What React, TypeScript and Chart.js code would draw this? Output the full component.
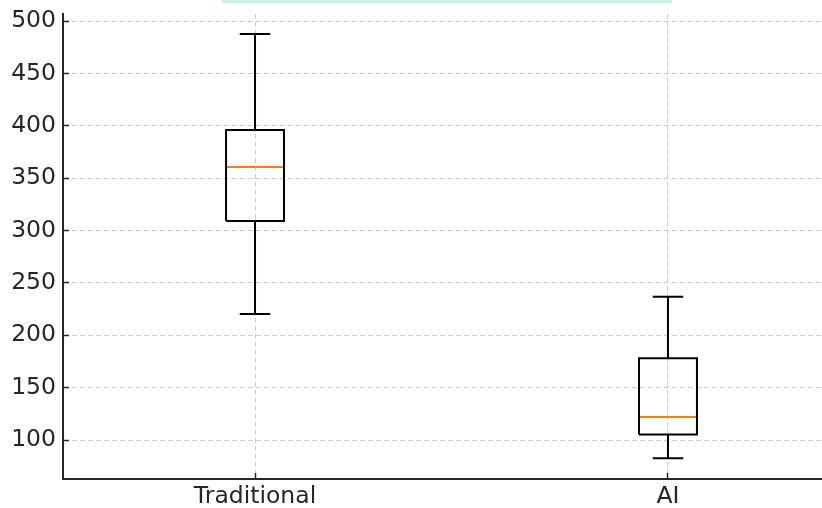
import React, { useEffect, useRef } from "react";
import { Chart, registerables } from "chart.js";

Chart.register(...registerables);

const categories = ["Traditional", "AI"];
const positions = [1, 2];
const whiskerLow = [220.3, 82.5];
const q1 = [309.1, 105.4];
const median = [360.6, 122.0];
const q3 = [395.9, 178.0];
const whiskerHigh = [487.6, 236.8];
const yTicks = [100, 150, 200, 250, 300, 350, 400, 450, 500];

const BOX_HALF = 0.0702;
const CAP_HALF = 0.037;
const FONT = "'DejaVu Sans', sans-serif";
const TEXT_COLOR = "#262626";

function buildDatasets() {
  const ds: any[] = [];
  positions.forEach((p, i) => {
    const base = {
      showLine: true,
      pointRadius: 0,
      pointHoverRadius: 0,
      borderWidth: 2,
      borderColor: "#000000",
      backgroundColor: "transparent",
      fill: false,
      spanGaps: false,
      tension: 0,
      borderJoinStyle: "miter",
      borderCapStyle: "butt",
    };
    ds.push({
      ...base,
      label: categories[i] + " whiskers",
      data: [
        { x: p, y: whiskerLow[i] },
        { x: p, y: q1[i] },
        { x: p, y: null },
        { x: p, y: q3[i] },
        { x: p, y: whiskerHigh[i] },
        { x: p, y: null },
        { x: p - CAP_HALF, y: whiskerLow[i] },
        { x: p + CAP_HALF, y: whiskerLow[i] },
        { x: p, y: null },
        { x: p - CAP_HALF, y: whiskerHigh[i] },
        { x: p + CAP_HALF, y: whiskerHigh[i] },
      ],
    });
    ds.push({
      ...base,
      label: categories[i] + " box",
      data: [
        { x: p - BOX_HALF, y: q1[i] },
        { x: p + BOX_HALF, y: q1[i] },
        { x: p + BOX_HALF, y: q3[i] },
        { x: p - BOX_HALF, y: q3[i] },
        { x: p - BOX_HALF, y: q1[i] },
      ],
    });
    ds.push({
      ...base,
      label: categories[i] + " median",
      borderColor: "#ff7f0e",
      data: [
        { x: p - BOX_HALF, y: median[i] },
        { x: p + BOX_HALF, y: median[i] },
      ],
    });
  });
  return ds;
}

export default function App() {
  const ref = useRef<HTMLCanvasElement | null>(null);

  useEffect(() => {
    if (!ref.current) return;
    const chart = new Chart(ref.current, {
      type: "scatter",
      data: { datasets: buildDatasets() },
      options: {
        animation: false,
        responsive: true,
        maintainAspectRatio: false,
        layout: { padding: { top: 14, left: 0, right: 0, bottom: 0 } },
        plugins: {
          legend: { display: false },
          tooltip: { enabled: false },
          title: { display: false },
        },
        scales: {
          x: {
            type: "linear",
            min: 0.535,
            max: 2.373,
            afterBuildTicks: (scale: any) => {
              scale.ticks = positions.map((v) => ({ value: v }));
            },
            afterFit: (scale: any) => {
              scale.height = 29;
              scale.paddingLeft = 0;
              scale.paddingRight = 0;
            },
            grid: {
              display: true,
              color: "#cccccc",
              lineWidth: 1,
              drawTicks: true,
              tickLength: -6,
              tickColor: "#262626",
              tickWidth: 1.5,
            },
            border: { display: true, color: "#262626", width: 2, dash: [5, 3] },
            ticks: {
              padding: 10,
              color: TEXT_COLOR,
              font: { family: FONT, size: 23.5 },
              maxRotation: 0,
              autoSkip: false,
              callback: (v: any) => {
                const idx = positions.indexOf(Number(v));
                return idx >= 0 ? categories[idx] : "";
              },
            },
          },
          y: {
            type: "linear",
            min: 62.8,
            max: 506.7,
            afterBuildTicks: (scale: any) => {
              scale.ticks = yTicks.map((v) => ({ value: v }));
            },
            afterFit: (scale: any) => {
              scale.width = 63;
              scale.paddingTop = 0;
              scale.paddingBottom = 0;
            },
            grid: {
              display: true,
              color: "#cccccc",
              lineWidth: 1,
              drawTicks: true,
              tickLength: -6,
              tickColor: "#262626",
              tickWidth: 1.5,
            },
            border: { display: true, color: "#262626", width: 2, dash: [5, 3] },
            ticks: {
              padding: 13,
              color: TEXT_COLOR,
              font: { family: FONT, size: 23.5 },
              autoSkip: false,
              callback: (v: any) => String(v),
            },
          },
        },
      } as any,
    });
    return () => chart.destroy();
  }, []);

  return (
    <div style={{ position: "fixed", left: 0, top: 0, width: 822, height: 508, background: "#ffffff" }}>
      <div
        style={{
          position: "absolute",
          left: 222,
          top: 0,
          width: 450,
          height: 3,
          background: "#cdeedd",
        }}
      />
      <canvas ref={ref} />
    </div>
  );
}
